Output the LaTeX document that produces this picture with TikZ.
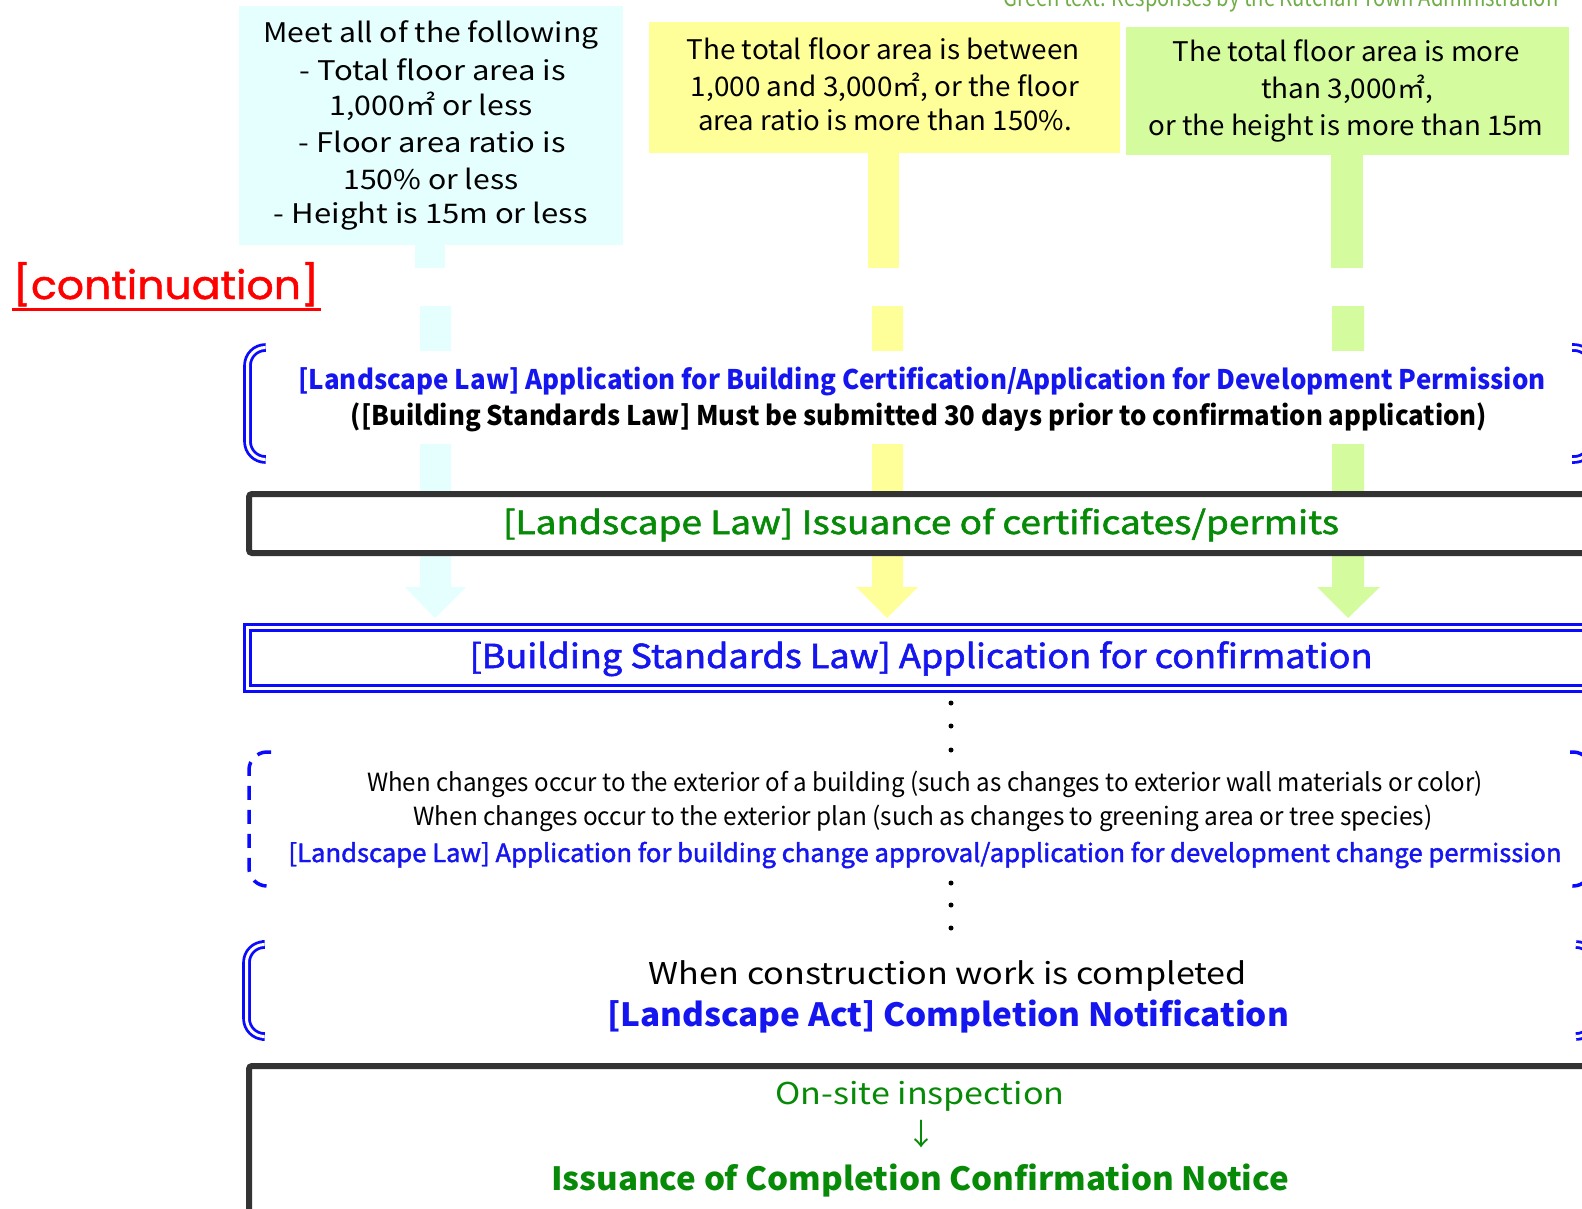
\documentclass[tikz,border=0pt]{standalone}
\usepackage{fontspec}
\usepackage{graphicx}
\setmainfont{Noto Sans CJK JP}
\newfontfamily\medfont[FakeBold=1.6]{Noto Sans CJK JP}
\newfontfamily\popfont[FakeBold=1.2]{Poppins}
\definecolor{cyanbox}{HTML}{E5FFFF}
\definecolor{yelbox}{HTML}{FFFF99}
\definecolor{grnbox}{HTML}{D4FC9E}
\definecolor{bluetxt}{HTML}{1515F0}
\definecolor{blueline}{HTML}{0A0AFF}
\definecolor{grntxt}{HTML}{078A07}
\definecolor{boxgray}{HTML}{333333}
\definecolor{topgreen}{HTML}{70AD47}
\definecolor{redtxt}{HTML}{FF0000}
\newcommand\fw[2]{\resizebox{#1pt}{\height}{#2}}
\newcommand\fs[1]{\fontsize{#1}{#1}\selectfont}
\begin{document}
\begin{tikzpicture}[x=1pt,y=-1pt,
  txt/.style={inner sep=0pt, anchor=base},
  dbl/.style={draw=blueline, line width=2.8pt, double=white, double distance=3pt, rounded corners=18pt},
  thickbox/.style={draw=boxgray, line width=6pt, fill=white, rounded corners=3pt},
  dashbr/.style={draw=blueline, line width=3.5pt, dash pattern=on 14pt off 10pt, rounded corners=18pt},
  dotm/.style={circle, fill=black, inner sep=0pt, minimum size=5pt}]
\path[use as bounding box] (0,0) rectangle (1582,1208);
\begin{scope}
\clip (0,0) rectangle (1582,1208);
\fill[white] (0,0) rectangle (1582,1208);

% top note
\node[txt, font=\fs{24}, text=topgreen] (note) at (1281,6) {\fw{555}{Green text: Responses by the Kutchan Town Administration}};

% condition boxes
\fill[cyanbox] (239,6) rectangle (623,245);
\fill[yelbox] (649,22) rectangle (1120,153);
\fill[grnbox] (1126,27) rectangle (1569,155);

\node[txt, font=\fs{27}] (c1) at (431,42) {\fw{335}{Meet all of the following}};
\node[txt, font=\fs{27}] (c2) at (433,80) {\fw{266}{- Total floor area is}};
\node[txt, font=\fs{27}] (c3) at (431,115) {\fw{203}{1,000㎡ or less}};
\node[txt, font=\fs{27}] (c4) at (432,152) {\fw{267}{- Floor area ratio is}};
\node[txt, font=\fs{27}] (c5) at (431,189) {\fw{175}{150\% or less}};
\node[txt, font=\fs{27}] (c6) at (431,223) {\fw{314}{- Height is 15m or less}};

\node[txt, font=\fs{27}] (y1) at (883,59) {\fw{393}{The total floor area is between}};
\node[txt, font=\fs{27}] (y2) at (885,96) {\fw{388}{1,000 and 3,000㎡, or the floor}};
\node[txt, font=\fs{27}] (y3) at (885,130) {\fw{374}{area ratio is more than 150\%.}};

\node[txt, font=\fs{27}] (g1) at (1346,61) {\fw{347}{The total floor area is more}};
\node[txt, font=\fs{27}] (g2) at (1347,98) {\fw{172}{than 3,000㎡,}};
\node[txt, font=\fs{27}] (g3) at (1346,135) {\fw{395}{or the height is more than 15m}};

% arrow stems, first segments
\fill[cyanbox] (415,245) rectangle (445,268);
\fill[yelbox] (868,153) rectangle (899,268);
\fill[grnbox] (1331,155) rectangle (1363,268);

% arrow stems, second segments with heads
\fill[cyanbox] (420,306) -- (451,306) -- (451,587) -- (466,587) -- (435,618) -- (405,587) -- (420,587) -- cycle;
\fill[yelbox] (872,306) -- (903,306) -- (903,587) -- (918,587) -- (887,618) -- (856,587) -- (872,587) -- cycle;
\fill[grnbox] (1332,306) -- (1364,306) -- (1364,587) -- (1380,587) -- (1348,618) -- (1317,587) -- (1332,587) -- cycle;

% continuation label
\node[txt, font=\popfont\fs{44}, text=redtxt] (cont) at (166,299) {\resizebox{306pt}{37pt}{[continuation]}};
\draw[redtxt, line width=3pt] (12,309.5) -- (321,309.5);

% bracket 1
\fill[white] (243,351) rectangle (1582,444);
\draw[dbl] (265,347.5) -- (247.5,347.5) -- (247.5,459.5) -- (265,459.5);
\draw[dbl] (1572,347.5) -- (1592,347.5) -- (1592,459.5) -- (1572,459.5);
\node[txt, font=\bfseries\fs{27}, text=bluetxt] (b1a) at (922,389) {\fw{1247}{[Landscape Law] Application for Building Certification/Application for Development Permission}};
\node[txt, font=\bfseries\fs{27}] (b1b) at (919,425) {\fw{1136}{([Building Standards Law] Must be submitted 30 days prior to confirmation application)}};

% box 2
\draw[thickbox] (249,494) rectangle (1640,553);
\node[txt, font=\medfont\fs{32}, text=grntxt] (b2) at (921,534) {\fw{836}{[Landscape Law] Issuance of certificates/permits}};

% box 3
\draw[draw=blueline, line width=2.8pt, double=white, double distance=3pt] (247.5,627.5) rectangle (1640,688.5);
\node[txt, font=\medfont\fs{33}, text=bluetxt] (b3) at (921,668) {\fw{903}{[Building Standards Law] Application for confirmation}};

% dots
\node[dotm] (d1) at (951,703) {};
\node[dotm] (d2) at (951,726) {};
\node[dotm] (d3) at (951,750) {};

% dashed bracket
\draw[dashbr] (271,752) -- (249,752) -- (249,886) -- (271,886);
\draw[dashbr] (1570,752) -- (1591,752) -- (1591,886) -- (1570,886);
\node[txt, font=\fs{25}] (dl1) at (925,791) {\fw{1116}{When changes occur to the exterior of a building (such as changes to exterior wall materials or color)}};
\node[txt, font=\fs{25}] (dl2) at (923,825) {\fw{1019}{When changes occur to the exterior plan (such as changes to greening area or tree species)}};
\node[txt, font=\medfont\fs{25}, text=bluetxt] (dl3) at (925,862) {\fw{1273}{[Landscape Law] Application for building change approval/application for development change permission}};

\node[dotm] (d4) at (951,883) {};
\node[dotm] (d5) at (951,905) {};
\node[dotm] (d6) at (951,928) {};

% bracket 4
\draw[dbl] (262,944.5) -- (246.5,944.5) -- (246.5,1036.5) -- (262,1036.5);
\draw[dbl] (1576,944.5) -- (1594,944.5) -- (1594,1036.5) -- (1576,1036.5);
\node[txt, font=\fs{30}] (c4a) at (948,984) {\fw{598}{When construction work is completed}};
\node[txt, font=\bfseries\fs{32}, text=bluetxt] (c4b) at (948,1026) {\fw{682}{[Landscape Act] Completion Notification}};

% box 5
\draw[thickbox] (249,1066) rectangle (1640,1260);
\node[txt, font=\fs{30}, text=grntxt] (e1) at (920,1104) {\fw{289}{On-site inspection}};
\node[txt, font=\fs{30}, text=grntxt] (e2) at (921,1145) {↓};
\node[txt, font=\bfseries\fs{32}, text=grntxt] (e3) at (920,1190) {\fw{738}{Issuance of Completion Confirmation Notice}};
\end{scope}
\end{tikzpicture}
\end{document}
